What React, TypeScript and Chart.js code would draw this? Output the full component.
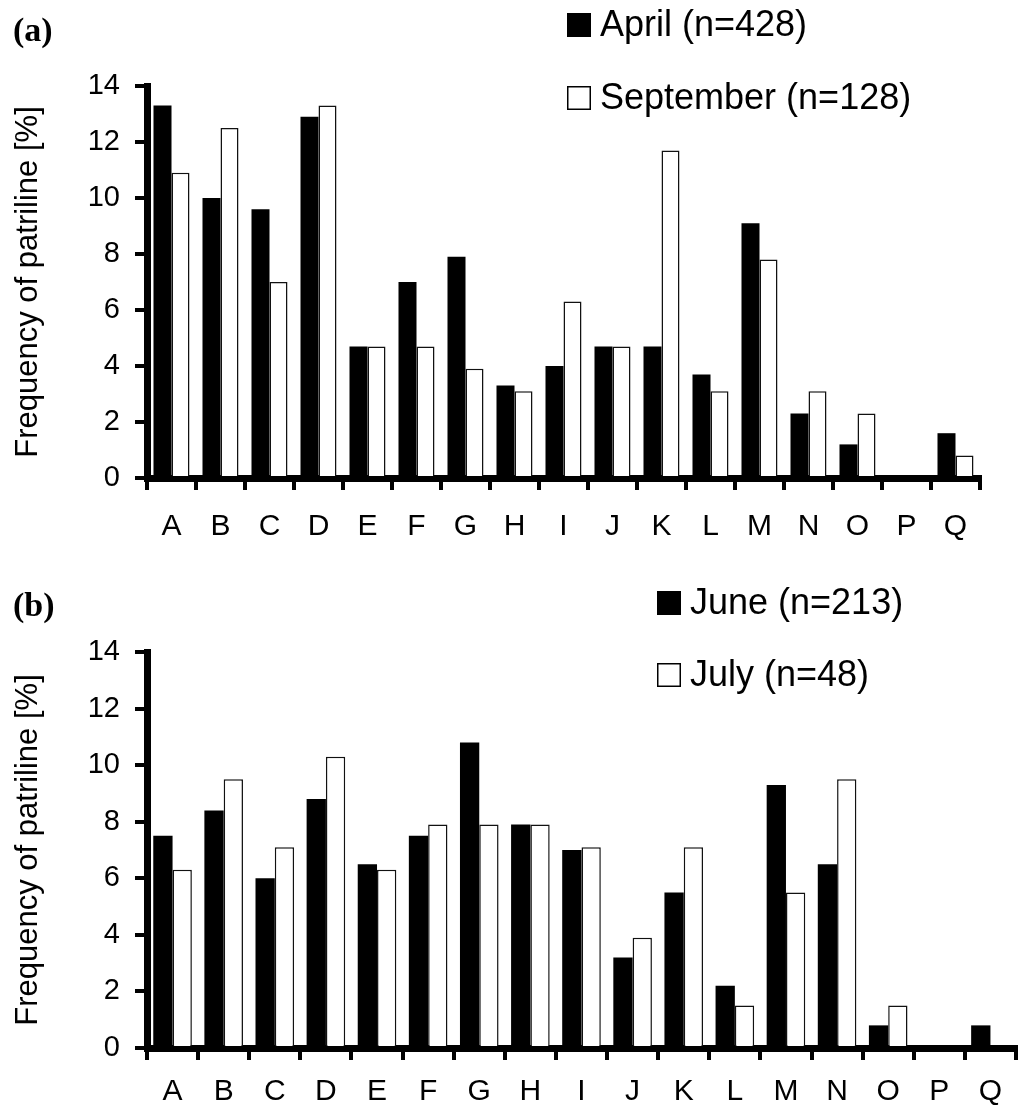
import { useEffect, useRef } from 'react'
import { Chart, registerables } from 'chart.js'

// Register Chart.js components
Chart.register(...registerables)

const FONT = '"Liberation Sans", Arial, Helvetica, sans-serif'

// Patriline categories (x axis)
const patrilines = ['A', 'B', 'C', 'D', 'E', 'F', 'G', 'H', 'I', 'J', 'K', 'L', 'M', 'N', 'O', 'P', 'Q']

// Panel (a) - frequencies in %
const aprilValues = [13.3, 10.0, 9.6, 12.9, 4.7, 7.0, 7.9, 3.3, 4.0, 4.7, 4.7, 3.7, 9.1, 2.3, 1.2, 0, 1.6]
const septemberValues = [10.9, 12.5, 7.0, 13.3, 4.7, 4.7, 3.9, 3.1, 6.3, 4.7, 11.7, 3.1, 7.8, 3.1, 2.3, 0, 0.8]

// Panel (b) - frequencies in %
const juneValues = [7.5, 8.4, 6.0, 8.8, 6.5, 7.5, 10.8, 7.9, 7.0, 3.2, 5.5, 2.2, 9.3, 6.5, 0.8, 0, 0.8]
const julyValues = [6.3, 9.5, 7.1, 10.3, 6.3, 7.9, 7.9, 7.9, 7.1, 3.9, 7.1, 1.5, 5.5, 9.5, 1.5, 0, 0]

const seriesLabelsA = ['April (n=428)', 'September (n=128)']
const seriesLabelsB = ['June (n=213)', 'July (n=48)']

// y axis: 0..14 every 2
const yMax = 14
const yStep = 2

// draws the panel letter and the two-row legend in the upper right
const figureLegend = {
  id: 'figureLegend',
  afterDraw(chart, _args, opts) {
    const { ctx } = chart
    ctx.save()
    ctx.fillStyle = '#000'
    ctx.textAlign = 'left'
    ctx.textBaseline = 'alphabetic'
    ctx.font = 'bold 34px "Liberation Serif", "Times New Roman", serif'
    ctx.fillText(opts.panel, 13, opts.panelY)

    ctx.font = `36px ${FONT}`
    ctx.textBaseline = 'middle'
    chart.data.datasets.forEach((ds, i) => {
      const y = opts.top + i * opts.rowGap
      ctx.fillStyle = ds.backgroundColor
      ctx.fillRect(opts.left, y - 12, 24, 24)
      ctx.lineWidth = 1.5
      ctx.strokeStyle = '#000'
      ctx.strokeRect(opts.left + 0.75, y - 11.25, 22.5, 22.5)
      ctx.fillStyle = '#000'
      ctx.fillText(ds.label, opts.left + 33, y + 1)
    })
    ctx.restore()
  },
}

function PanelChart({ first, second, labels, layout }) {
  const chartRef = useRef(null)
  const chartInstance = useRef(null)

  useEffect(() => {
    if (!chartRef.current) return
    if (chartInstance.current) chartInstance.current.destroy()

    const ctx = chartRef.current.getContext('2d')
    chartInstance.current = new Chart(ctx, {
      type: 'bar',
      data: {
        labels: patrilines,
        datasets: [
          {
            label: labels[0],
            data: first,
            backgroundColor: '#000',
            borderColor: '#000',
            borderWidth: 0,
          },
          {
            label: labels[1],
            data: second,
            backgroundColor: '#fff',
            borderColor: '#111',
            borderWidth: 1.5,
          },
        ],
      },
      plugins: [figureLegend],
      options: {
        responsive: false,
        animation: false,
        datasets: {
          bar: {
            categoryPercentage: layout.groupWidth,
            barPercentage: 1,
          },
        },
        layout: {
          padding: { top: layout.top, right: layout.right, bottom: 0, left: 0 },
        },
        scales: {
          x: {
            type: 'category',
            offset: true,
            z: 1,
            grid: {
              display: true,
              offset: true,
              drawOnChartArea: false,
              drawTicks: true,
              tickLength: 12,
              lineWidth: 4,
              tickWidth: 4,
              tickColor: '#000',
              color: '#000',
            },
            border: { display: true, color: '#000', width: 7 },
            ticks: {
              color: '#000',
              font: { family: FONT, size: 30 },
              padding: layout.xPad,
              maxRotation: 0,
              autoSkip: false,
            },
            afterFit: (scale) => {
              scale.height = layout.xHeight
            },
          },
          y: {
            min: 0,
            max: yMax,
            z: 1,
            grid: {
              display: true,
              drawOnChartArea: false,
              drawTicks: true,
              tickLength: 12,
              lineWidth: 4,
              tickWidth: 4,
              tickColor: '#000',
              color: '#000',
            },
            border: { display: true, color: '#000', width: 7 },
            ticks: {
              stepSize: yStep,
              color: '#000',
              font: { family: FONT, size: 29 },
              padding: 15,
            },
            title: {
              display: true,
              text: 'Frequency of patriline [%]',
              color: '#000',
              font: { family: FONT, size: 31 },
              padding: { top: 10, bottom: 0 },
            },
            afterFit: (scale) => {
              scale.width = 147
            },
          },
        },
        plugins: {
          legend: { display: false },
          tooltip: { enabled: false },
          figureLegend: layout.legend,
        },
      },
    })

    return () => {
      if (chartInstance.current) {
        chartInstance.current.destroy()
        chartInstance.current = null
      }
    }
  }, [first, second, labels, layout])

  return <canvas ref={chartRef} width={1024} height={559} style={{ display: 'block' }} />
}

const layoutA = {
  top: 86,
  right: 44,
  xHeight: 81,
  xPad: 19,
  groupWidth: 0.735,
  legend: { panel: '(a)', panelY: 41, left: 567, top: 25, rowGap: 73 },
}

const layoutB = {
  top: 93,
  right: 8,
  xHeight: 70,
  xPad: 14,
  groupWidth: 0.755,
  legend: { panel: '(b)', panelY: 57, left: 657, top: 44, rowGap: 72 },
}

export default function App() {
  return (
    <div style={{ position: 'absolute', left: 0, top: 0, width: 1024, height: 1118, background: '#fff' }}>
      <PanelChart first={aprilValues} second={septemberValues} labels={seriesLabelsA} layout={layoutA} />
      <PanelChart first={juneValues} second={julyValues} labels={seriesLabelsB} layout={layoutB} />
    </div>
  )
}
